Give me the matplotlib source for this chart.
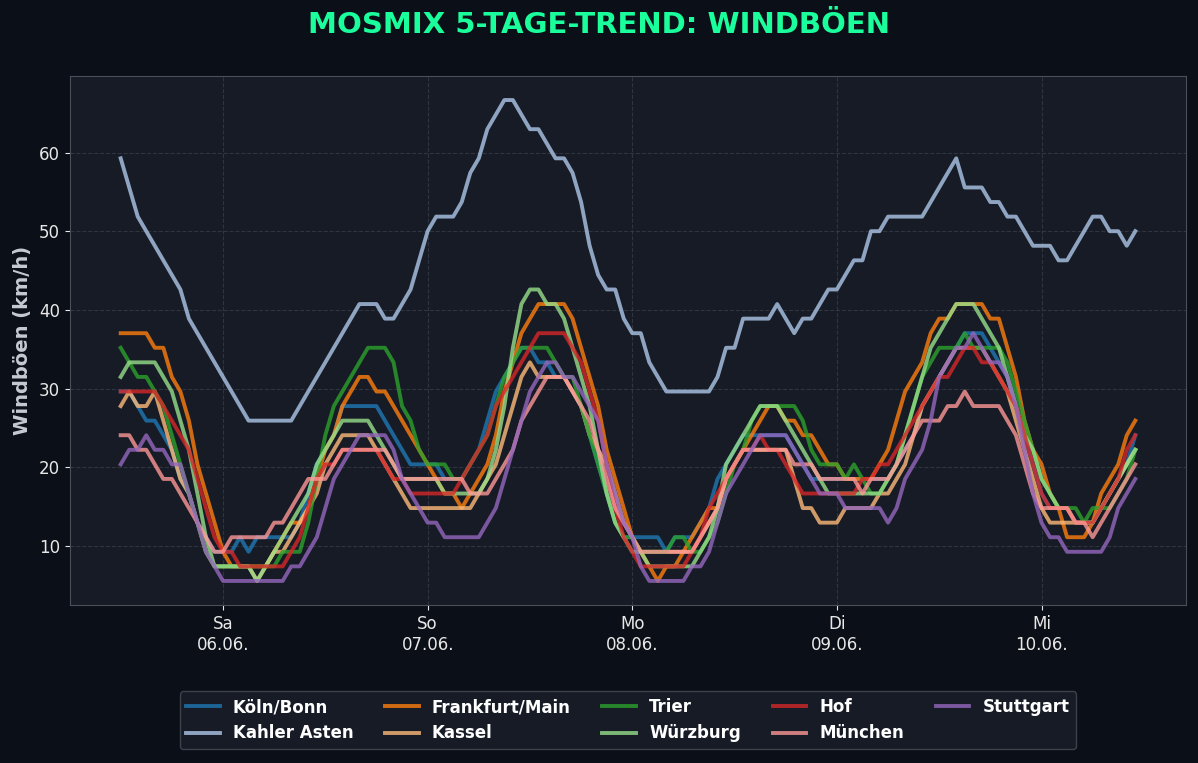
import numpy as np
import pandas as pd
import matplotlib
matplotlib.use("Agg")
import matplotlib.pyplot as plt
import matplotlib.dates as mdates
from matplotlib.ticker import FuncFormatter

# MOSMIX gust forecast (FX1), hourly in knots
times = pd.date_range("2026-06-05 12:00", periods=120, freq="h")

koeln = [16,16,15,14,14,13,12,10,9,7,6,5,5,5,6,5,6,6,6,6,6,7,9,11,
         12,13,15,15,15,15,15,14,13,12,11,11,11,11,10,10,10,11,12,14,16,17,18,19,
         19,18,18,17,17,16,15,13,11,9,7,6,6,6,6,6,5,6,6,6,7,8,10,11,
         12,13,13,13,13,13,13,12,11,10,10,10,10,10,10,10,10,10,10,11,12,13,15,16,
         17,18,19,20,20,20,19,18,17,15,13,11,9,8,8,8,7,7,7,8,9,10,11,13]
kahler = [32,30,28,27,26,25,24,23,21,20,19,18,17,16,15,14,14,14,14,14,14,15,16,17,
          18,19,20,21,22,22,22,21,21,22,23,25,27,28,28,28,29,31,32,34,35,36,36,35,
          34,34,33,32,32,31,29,26,24,23,23,21,20,20,18,17,16,16,16,16,16,16,17,19,
          19,21,21,21,21,22,21,20,21,21,22,23,23,24,25,25,27,27,28,28,28,28,28,29,
          30,31,32,30,30,30,29,29,28,28,27,26,26,26,25,25,26,27,28,28,27,27,26,27]
frankfurt = [20,20,20,20,19,19,17,16,14,11,9,7,5,4,4,4,4,4,5,6,7,7,8,10,
             12,13,15,16,17,17,16,16,15,14,13,12,11,10,9,9,8,9,10,11,13,16,18,20,
             21,22,22,22,22,21,19,17,15,12,10,8,6,5,4,3,4,4,5,6,7,8,8,10,
             11,12,13,14,15,15,14,14,13,13,12,11,11,10,10,10,10,11,12,14,16,17,18,20,
             21,21,22,22,22,22,21,21,19,17,14,12,11,9,8,6,6,6,7,9,10,11,13,14]
kassel = [15,16,15,15,16,14,12,10,9,7,5,4,4,4,4,4,3,4,5,5,6,7,8,9,
          11,12,13,13,13,13,12,11,10,9,8,8,8,8,8,8,8,8,9,10,11,13,15,17,
          18,17,17,17,17,16,15,13,12,11,9,7,6,5,5,5,5,5,5,5,6,7,8,10,
          11,12,12,12,12,12,12,10,8,8,7,7,7,8,8,8,8,9,9,10,11,13,15,16,
          17,18,19,19,19,19,18,17,16,14,12,10,8,7,7,7,7,7,7,8,9,10,11,12]
trier = [19,18,17,17,16,15,13,11,9,7,5,4,4,4,4,4,4,4,4,5,5,5,7,10,
         13,15,16,17,18,19,19,19,18,15,14,12,11,11,11,10,10,11,12,13,15,17,18,19,
         19,19,19,18,17,17,15,13,11,9,7,6,6,5,5,5,5,6,6,5,5,6,7,9,
         11,12,14,15,15,15,15,15,14,12,11,11,11,10,11,10,9,9,10,11,13,15,17,18,
         19,19,19,20,19,19,19,19,18,16,14,12,10,9,8,8,8,7,8,8,8,9,10,12]
wuerzburg = [17,18,18,18,18,17,16,14,12,9,6,4,4,4,4,4,3,4,5,6,7,8,9,11,
             12,13,14,14,14,14,13,12,11,10,10,10,10,10,9,9,9,9,9,10,12,15,19,22,
             23,23,22,22,21,19,17,15,12,9,7,6,5,5,4,4,4,4,4,4,5,6,8,11,
             12,13,14,15,15,15,14,13,12,11,10,9,9,9,9,9,9,9,10,11,13,15,17,19,
             20,21,22,22,22,21,20,19,17,15,13,12,10,9,8,8,7,7,7,8,9,10,11,12]
hof = [16,16,16,16,16,15,14,13,12,10,8,6,5,5,4,4,4,4,4,4,5,6,8,10,
       11,11,12,12,12,12,12,11,10,10,9,9,9,9,9,9,10,11,12,13,15,16,17,18,
       19,20,20,20,20,19,18,16,14,11,8,6,5,4,4,4,4,4,4,5,6,8,9,10,
       11,12,12,13,12,12,11,10,9,9,9,9,9,9,9,10,10,11,11,12,13,14,15,16,
       17,17,18,19,19,18,18,17,16,15,13,11,9,8,8,8,7,7,7,8,9,10,12,13]
muenchen = [13,13,12,12,11,10,10,9,8,7,6,5,5,6,6,6,6,6,7,7,8,9,10,10,
            10,11,12,12,12,12,12,12,11,10,10,10,10,10,10,10,10,9,9,9,10,11,12,14,
            15,16,17,17,17,16,15,14,12,10,8,7,6,5,5,5,5,5,5,5,6,7,8,10,
            11,12,12,12,12,12,12,11,11,11,10,10,10,10,10,9,10,10,10,11,12,13,14,14,
            14,15,15,16,15,15,15,15,14,13,11,9,8,8,8,8,7,7,6,7,8,9,10,11]
stuttgart = [11,12,12,13,12,12,11,11,9,7,5,4,3,3,3,3,3,3,3,3,4,4,5,6,
             8,10,11,12,13,13,13,13,12,10,9,8,7,7,6,6,6,6,6,7,8,10,12,14,
             16,17,18,18,17,17,16,15,14,11,9,7,6,4,3,3,3,3,3,4,4,5,7,9,
             10,11,12,13,13,13,13,12,11,10,9,9,9,8,8,8,8,8,7,8,10,11,12,14,
             17,18,19,19,20,19,18,18,17,15,12,9,7,6,6,5,5,5,5,5,6,8,9,10]

stations = ["Köln/Bonn", "Kahler Asten", "Frankfurt/Main", "Kassel", "Trier",
            "Würzburg", "Hof", "München", "Stuttgart"]
knots = [koeln, kahler, frankfurt, kassel, trier, wuerzburg, hof, muenchen, stuttgart]

df = pd.DataFrame({name: np.array(v) * 1.852 for name, v in zip(stations, knots)}, index=times)

colors = plt.cm.tab20.colors
weekdays = ["Mo", "Di", "Mi", "Do", "Fr", "Sa", "So"]

fig_bg = "#0b0f17"
ax_bg = "#161b26"

fig = plt.figure(figsize=(11.98, 7.63), dpi=100, facecolor=fig_bg)
ax = fig.add_axes([0.0584, 0.2071, 0.9316, 0.6933], facecolor=ax_bg)

for i, name in enumerate(stations):
    ax.plot(df.index, df[name], color=colors[i], lw=2.8, alpha=0.8, label=name)

ax.xaxis.set_major_locator(mdates.DayLocator())
ax.xaxis.set_major_formatter(FuncFormatter(
    lambda x, pos: "%s\n%s" % (weekdays[mdates.num2date(x).weekday()],
                               mdates.num2date(x).strftime("%d.%m."))))
ax.set_yticks([10, 20, 30, 40, 50, 60])

ax.grid(True, color="#3a3f4a", ls="--", lw=0.8, alpha=0.7)
ax.tick_params(colors="#e8e8e8", labelsize=12)
for s in ax.spines.values():
    s.set_color("#4a4f5a")

ax.set_ylabel("Windböen (km/h)", color="#c5cad3", fontsize=14, fontweight="bold",
              labelpad=5)
fig.suptitle("MOSMIX 5-TAGE-TREND: WINDBÖEN", color="#1aff9c", fontsize=21,
             fontweight="bold", y=0.986)

leg = fig.legend(loc="center", bbox_to_anchor=(0.524, 0.056), ncol=5,
                 facecolor=ax_bg, edgecolor="#3c414b", labelcolor="white",
                 prop={"weight": "bold", "size": 12}, handlelength=2.0,
                 columnspacing=1.9, framealpha=1)

fig.savefig("out.png", dpi=100, facecolor=fig_bg)
